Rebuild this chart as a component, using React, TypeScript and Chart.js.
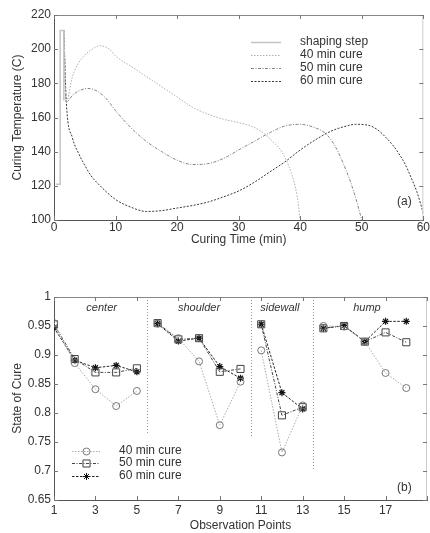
import React, { useEffect, useRef } from "react";
import { Chart, registerables } from "chart.js";
Chart.register(...registerables);

const FONT = "'Liberation Sans', Arial, sans-serif";
const TEXT = "#333";

// ---------- Panel (a): curing temperature ----------
const shapingTime = [0.3, 1.0, 1.0, 1.6, 1.6];
const shapingTemp = [121, 121, 211, 211, 170];
const time40 = [1.6, 2, 3, 4, 5, 6, 7.5, 9, 10, 12.5, 15, 17.5, 20, 22.5, 25, 27.5, 30, 32, 34, 35.5, 37, 38.5, 39.5, 40];
const temp40 = [211, 169, 184, 192, 196.5, 199.5, 202, 200, 196, 190, 184, 178, 172, 166, 162, 159, 157, 155, 151, 146, 140, 128, 114, 100];
const time50 = [1.6, 2, 3, 4, 5.5, 7, 8.5, 10, 12.5, 15, 17.5, 20, 22.5, 25, 27.5, 30, 32.5, 35, 37.5, 40, 42, 44, 45, 46, 47, 48, 49, 50];
const temp50 = [211, 169, 173, 175.5, 177, 175.5, 171, 164, 154, 146, 140, 135, 132.5, 133, 136, 141, 146, 151, 155, 156, 154.5, 151, 147, 141, 133, 124, 113, 100];
const time60 = [1.6, 2, 3, 4, 5, 6, 7.5, 10, 12.5, 15, 17.5, 20, 22.5, 25, 27.5, 30, 32.5, 35, 37.5, 40, 42.5, 45, 47.5, 49, 51, 52.5, 54, 55, 56, 57, 58, 59, 60];
const temp60 = [211, 169, 148, 139, 132, 126, 120, 112, 107.5, 105, 105.5, 107, 108.5, 110.5, 113.5, 117, 122, 128, 134, 141, 147, 152, 155, 156, 155.5, 153, 148, 144, 139, 133, 125, 116, 104];
const seriesNamesA = ["shaping step", "40 min cure", "50 min cure", "60 min cure"];

// ---------- Panel (b): state of cure ----------
const obsPoints = [1, 2, 3, 4, 5, 5.5, 6, 7, 8, 9, 10, 10.5, 11, 12, 13, 13.5, 14, 15, 16, 17, 18];
const cure40 = [0.955, 0.886, 0.841, 0.812, 0.838, null, 0.954, 0.929, 0.889, 0.779, 0.854, null, 0.908, 0.732, 0.813, null, 0.950, 0.949, 0.923, 0.869, 0.843];
const cure50 = [0.953, 0.893, 0.870, 0.870, 0.877, null, 0.955, 0.927, 0.929, 0.871, 0.876, null, 0.953, 0.796, 0.810, null, 0.946, 0.950, 0.923, 0.939, 0.922];
const cure60 = [0.947, 0.891, 0.878, 0.882, 0.871, null, 0.954, 0.924, 0.929, 0.880, 0.860, null, 0.953, 0.835, 0.807, null, 0.946, 0.951, 0.923, 0.958, 0.958];
const seriesNamesB = ["40 min cure", "50 min cure", "60 min cure"];
const sectionNames = ["center", "shoulder", "sidewall", "hump"];
const sectionCenters = [3.3, 8.0, 11.9, 16.1];
const sectionBreaks = [5.5, 10.5, 13.5];
const sectionBreakEnds = [0.763, 0.76, 0.70];

const pts = (xs: number[], ys: (number | null)[]) => xs.map((x, i) => ({ x, y: ys[i] }));

function drawFrame(chart: any, tickLen = 4) {
  const { ctx, chartArea, scales } = chart;
  const { left, right, top, bottom } = chartArea;
  ctx.save();
  ctx.lineWidth = 1;
  ctx.strokeStyle = "#888";
  ctx.beginPath();
  ctx.moveTo(left, top + 0.5);
  ctx.lineTo(right, top + 0.5);
  ctx.stroke();
  ctx.strokeStyle = "#ccc";
  ctx.beginPath();
  ctx.moveTo(right - 0.5, top);
  ctx.lineTo(right - 0.5, bottom);
  ctx.stroke();
  ctx.strokeStyle = "#777";
  scales.x.ticks.forEach((t: any) => {
    const px = Math.round(scales.x.getPixelForValue(t.value)) + 0.5;
    ctx.beginPath();
    ctx.moveTo(px, bottom);
    ctx.lineTo(px, bottom - tickLen);
    ctx.moveTo(px, top);
    ctx.lineTo(px, top + tickLen);
    ctx.stroke();
  });
  scales.y.ticks.forEach((t: any) => {
    const py = Math.round(scales.y.getPixelForValue(t.value)) + 0.5;
    ctx.beginPath();
    ctx.moveTo(left, py);
    ctx.lineTo(left + tickLen, py);
    ctx.moveTo(right, py);
    ctx.lineTo(right - tickLen, py);
    ctx.stroke();
  });
  ctx.restore();
}

function drawMarker(ctx: CanvasRenderingContext2D, style: string, x: number, y: number, r: number, color: string) {
  ctx.save();
  ctx.strokeStyle = color;
  ctx.lineWidth = 1;
  ctx.setLineDash([]);
  ctx.beginPath();
  if (style === "circle") {
    ctx.arc(x, y, r, 0, Math.PI * 2);
  } else if (style === "rect") {
    const s = r * Math.SQRT1_2;
    ctx.rect(x - s, y - s, 2 * s, 2 * s);
  } else {
    for (let k = 0; k < 4; k++) {
      const a = (k * Math.PI) / 4;
      ctx.moveTo(x - Math.cos(a) * r, y - Math.sin(a) * r);
      ctx.lineTo(x + Math.cos(a) * r, y + Math.sin(a) * r);
    }
  }
  ctx.stroke();
  ctx.restore();
}

const panelAPlugin = {
  id: "panelA",
  afterDraw(chart: any) {
    drawFrame(chart);
    const { ctx } = chart;
    ctx.save();
    ctx.font = `12px ${FONT}`;
    ctx.textBaseline = "middle";
    const rows = [42, 55, 68, 81];
    chart.data.datasets.forEach((ds: any, i: number) => {
      ctx.save();
      ctx.strokeStyle = ds.borderColor;
      ctx.lineWidth = ds.borderWidth;
      ctx.setLineDash(ds.borderDash || []);
      ctx.beginPath();
      ctx.moveTo(251, rows[i] + 0.5);
      ctx.lineTo(281, rows[i] + 0.5);
      ctx.stroke();
      ctx.restore();
      ctx.fillStyle = TEXT;
      ctx.fillText(ds.label, 300, rows[i]);
    });
    ctx.fillText("(a)", 397, 202);
    ctx.restore();
  },
};

const panelBPlugin = {
  id: "panelB",
  beforeDatasetsDraw(chart: any) {
    const { ctx, scales, chartArea } = chart;
    ctx.save();
    ctx.strokeStyle = "#999";
    ctx.lineWidth = 1;
    ctx.setLineDash([1, 2]);
    sectionBreaks.forEach((b, i) => {
      const px = Math.round(scales.x.getPixelForValue(b)) + 0.5;
      ctx.beginPath();
      ctx.moveTo(px, chartArea.top);
      ctx.lineTo(px, scales.y.getPixelForValue(sectionBreakEnds[i]));
      ctx.stroke();
    });
    ctx.restore();
    ctx.save();
    ctx.font = `italic 11px ${FONT}`;
    ctx.fillStyle = TEXT;
    ctx.textAlign = "center";
    ctx.textBaseline = "middle";
    sectionNames.forEach((n, i) => {
      ctx.fillText(n, scales.x.getPixelForValue(sectionCenters[i]), scales.y.getPixelForValue(0.981));
    });
    ctx.restore();
  },
  afterDraw(chart: any) {
    drawFrame(chart);
    const { ctx } = chart;
    ctx.save();
    ctx.font = `12px ${FONT}`;
    ctx.textBaseline = "middle";
    const rows = [451, 463, 476].map((v) => v - 260);
    chart.data.datasets.forEach((ds: any, i: number) => {
      ctx.save();
      ctx.strokeStyle = ds.borderColor;
      ctx.lineWidth = ds.borderWidth;
      ctx.setLineDash(ds.borderDash || []);
      ctx.beginPath();
      ctx.moveTo(72, rows[i] + 0.5);
      ctx.lineTo(100, rows[i] + 0.5);
      ctx.stroke();
      ctx.restore();
      drawMarker(ctx, ds.pointStyle, 86.5, rows[i] + 0.5, ds.pointRadius, ds.pointBorderColor);
      ctx.fillStyle = TEXT;
      ctx.fillText(ds.label, 119, rows[i]);
    });
    ctx.fillText("(b)", 397, 488 - 260);
    ctx.restore();
  },
};

const tickFont = { family: FONT, size: 12 };

export default function App() {
  const refA = useRef<HTMLCanvasElement>(null);
  const refB = useRef<HTMLCanvasElement>(null);

  useEffect(() => {
    const chartA = new Chart(refA.current as HTMLCanvasElement, {
      type: "line",
      data: {
        datasets: [
          { label: seriesNamesA[0], data: pts(shapingTime, shapingTemp), borderColor: "#c4c4c4", borderWidth: 1.5, pointRadius: 0, tension: 0 },
          { label: seriesNamesA[1], data: pts(time40, temp40), borderColor: "#b0b0b0", borderWidth: 1, borderDash: [1.5, 1.5], pointRadius: 0, cubicInterpolationMode: "monotone" },
          { label: seriesNamesA[2], data: pts(time50, temp50), borderColor: "#858585", borderWidth: 1, borderDash: [3, 1.5, 1, 1.5], pointRadius: 0, cubicInterpolationMode: "monotone" },
          { label: seriesNamesA[3], data: pts(time60, temp60), borderColor: "#3a3a3a", borderWidth: 1, borderDash: [2, 1.5], pointRadius: 0, cubicInterpolationMode: "monotone" },
        ],
      } as any,
      options: {
        responsive: false,
        animation: false,
        layout: { padding: { top: 15, right: 2, left: 0, bottom: 0 }, autoPadding: false },
        plugins: { legend: { display: false }, tooltip: { enabled: false } },
        scales: {
          x: {
            type: "linear",
            min: 0,
            max: 60,
            ticks: { stepSize: 10, padding: 0, color: TEXT, font: tickFont, maxRotation: 0, autoSkip: false },
            grid: { display: false, drawTicks: false },
            border: { display: true, color: "#555" },
            title: { display: true, text: "Curing Time (min)", color: TEXT, font: tickFont, padding: { top: 0, bottom: 13 } },
            afterFit: (s: any) => { s.height = 40; },
          },
          y: {
            type: "linear",
            min: 100,
            max: 220,
            ticks: { stepSize: 20, padding: 3, color: TEXT, font: tickFont },
            grid: { display: false, drawTicks: false },
            border: { display: true, color: "#555" },
            title: { display: true, text: "Curing Temperature (C)", color: TEXT, font: tickFont, padding: { top: 10, bottom: 0 } },
            afterFit: (s: any) => { s.width = 54; },
          },
        },
      } as any,
      plugins: [panelAPlugin],
    });

    const chartB = new Chart(refB.current as HTMLCanvasElement, {
      type: "line",
      data: {
        datasets: [
          { label: seriesNamesB[0], data: pts(obsPoints, cure40), borderColor: "#aaaaaa", borderWidth: 1, borderDash: [1.5, 1.5], pointStyle: "circle", pointRadius: 3.5, pointBorderColor: "#777", pointBackgroundColor: "rgba(0,0,0,0)", pointBorderWidth: 1, spanGaps: false },
          { label: seriesNamesB[1], data: pts(obsPoints, cure50), borderColor: "#444", borderWidth: 1, borderDash: [3, 1.5, 1, 1.5], pointStyle: "rect", pointRadius: 5, pointBorderColor: "#444", pointBackgroundColor: "rgba(0,0,0,0)", pointBorderWidth: 1, spanGaps: false },
          { label: seriesNamesB[2], data: pts(obsPoints, cure60), borderColor: "#222", borderWidth: 1, borderDash: [2.5, 1.5], pointStyle: "star", pointRadius: 3.5, pointBorderColor: "#111", pointBackgroundColor: "#111", pointBorderWidth: 1.2, spanGaps: false },
        ],
      } as any,
      options: {
        responsive: false,
        animation: false,
        layout: { padding: { top: 37, right: 2, left: 0, bottom: 0 }, autoPadding: false },
        plugins: { legend: { display: false }, tooltip: { enabled: false } },
        scales: {
          x: {
            type: "linear",
            min: 1,
            max: 19,
            ticks: { stepSize: 2, padding: 3, color: TEXT, font: tickFont, maxRotation: 0, autoSkip: false, callback: (v: any) => (v === 19 ? "" : String(v)) },
            grid: { display: false, drawTicks: false },
            border: { display: true, color: "#555" },
            title: { display: true, text: "Observation Points", color: TEXT, font: tickFont, padding: { top: 0, bottom: 0 } },
            afterFit: (s: any) => { s.height = 33; },
          },
          y: {
            type: "linear",
            min: 0.65,
            max: 1,
            ticks: { stepSize: 0.05, padding: 3, color: TEXT, font: tickFont, callback: (v: any) => String(Number(Number(v).toFixed(2))) },
            grid: { display: false, drawTicks: false },
            border: { display: true, color: "#555" },
            title: { display: true, text: "State of Cure", color: TEXT, font: tickFont, padding: { top: 10, bottom: 0 } },
            afterFit: (s: any) => { s.width = 54; },
          },
        },
      } as any,
      plugins: [panelBPlugin],
    });

    return () => {
      chartA.destroy();
      chartB.destroy();
    };
  }, []);

  return (
    <div style={{ position: "absolute", left: 0, top: 0, width: 430, height: 533, background: "#fff", overflow: "hidden" }}>
      <canvas ref={refA} width={430} height={260} style={{ position: "absolute", left: 0, top: 0 }} />
      <canvas ref={refB} width={430} height={273} style={{ position: "absolute", left: 0, top: 260 }} />
    </div>
  );
}
